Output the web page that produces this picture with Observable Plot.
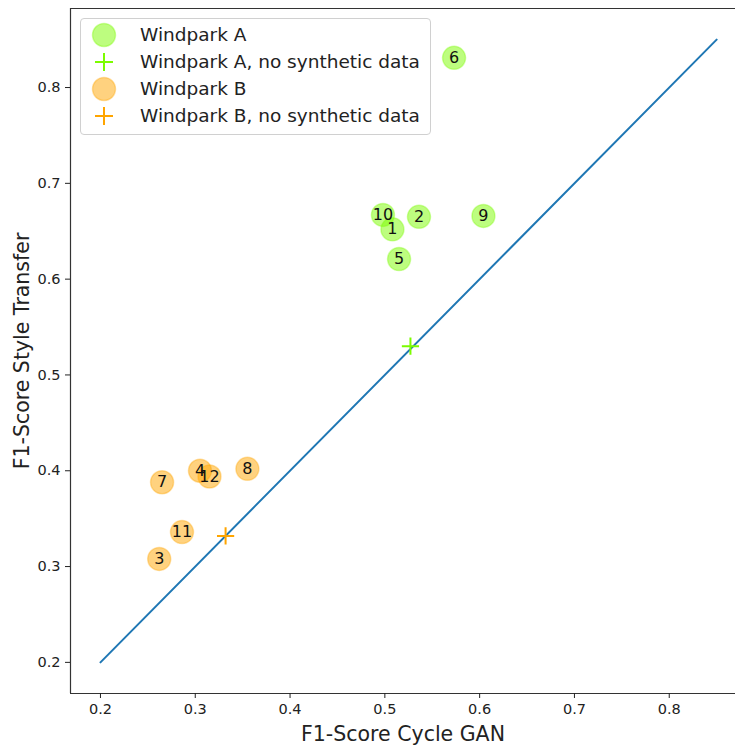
<!DOCTYPE html>
<html>
<head>
<meta charset="utf-8">
<script src="https://cdn.jsdelivr.net/npm/d3@7"></script>
<script src="https://cdn.jsdelivr.net/npm/@observablehq/plot@0.6"></script>
<style>
  html, body { margin: 0; padding: 0; background: #fff; }
  #wrap { position: relative; width: 735px; height: 745px; overflow: hidden; font-family: "DejaVu Sans", sans-serif; }
  #legend { position: absolute; left: 80px; top: 18px; width: 351px; height: 117px; border: 1px solid #d0d0d0; border-radius: 4px; background: rgba(255,255,255,0.85); box-sizing: border-box; }
  .row { position: absolute; left: 0; height: 26px; width: 100%; }
  .row svg { position: absolute; left: 10px; top: 0; }
  .row span { position: absolute; left: 59px; top: 1px; font-size: 18.5px; color: #222; line-height: 24px; white-space: nowrap; }
</style>
</head>
<body>
<div id="wrap"></div>
<script>
// Windpark A (with synthetic data)
const idsA = ["6", "10", "2", "1", "5", "9"];
const cycleA = [0.573, 0.498, 0.536, 0.508, 0.515, 0.604];
const styleA = [0.831, 0.667, 0.665, 0.652, 0.621, 0.666];
// Windpark A, no synthetic data
const baseCycleA = [0.527];
const baseStyleA = [0.530];
// Windpark B (with synthetic data)
const idsB = ["4", "12", "8", "7", "11", "3"];
const cycleB = [0.305, 0.315, 0.355, 0.265, 0.286, 0.262];
const styleB = [0.400, 0.394, 0.402, 0.388, 0.336, 0.308];
// Windpark B, no synthetic data
const baseCycleB = [0.332];
const baseStyleB = [0.332];
// Diagonal reference line
const diagX = [0.2, 0.85];
const diagY = [0.2, 0.85];
// Ticks
const xTicks = [0.2, 0.3, 0.4, 0.5, 0.6, 0.7, 0.8];
const yTicks = [0.2, 0.3, 0.4, 0.5, 0.6, 0.7, 0.8];

const greenFill = "#7CFC00";
const orangeFill = "#FFA500";

const A = idsA.map((id, i) => ({id, x: cycleA[i], y: styleA[i]}));
const B = idsB.map((id, i) => ({id, x: cycleB[i], y: styleB[i]}));
const A0 = baseCycleA.map((x, i) => ({x, y: baseStyleA[i]}));
const B0 = baseCycleB.map((x, i) => ({x, y: baseStyleB[i]}));
const diag = diagX.map((x, i) => ({x, y: diagY[i]}));

const xMin = 0.1684, xMax = 0.8699, yMin = 0.1675, yMax = 0.8825;

const plot = Plot.plot({
  width: 735,
  height: 745,
  marginLeft: 70,
  marginRight: 0,
  marginTop: 8,
  marginBottom: 52,
  style: {fontFamily: "DejaVu Sans, sans-serif", background: "white", overflow: "hidden"},
  x: {domain: [xMin, xMax]},
  y: {domain: [yMin, yMax]},
  marks: [
    Plot.line(diag, {x: "x", y: "y", stroke: "#1f77b4", strokeWidth: 2}),
    Plot.dot(A, {x: "x", y: "y", r: 11.5, fill: greenFill, fillOpacity: 0.5, stroke: greenFill, strokeOpacity: 0.35, strokeWidth: 1.5}),
    Plot.dot(A0, {x: "x", y: "y", symbol: "plus", r: 5.6, stroke: greenFill, strokeWidth: 2}),
    Plot.dot(B, {x: "x", y: "y", r: 11.5, fill: orangeFill, fillOpacity: 0.5, stroke: orangeFill, strokeOpacity: 0.35, strokeWidth: 1.5}),
    Plot.dot(B0, {x: "x", y: "y", symbol: "plus", r: 5.6, stroke: orangeFill, strokeWidth: 2}),
    Plot.text(A, {x: "x", y: "y", text: "id", fontSize: 16, fill: "#111"}),
    Plot.text(B, {x: "x", y: "y", text: "id", fontSize: 16, fill: "#111"}),
    Plot.ruleX([xMin], {stroke: "#333", strokeWidth: 1.2}),
    Plot.ruleY([yMin, yMax], {stroke: "#333", strokeWidth: 1.2}),
    Plot.axisX(xTicks, {ticks: xTicks, tickSize: 5, tickPadding: 5, fontSize: 14.5, tickFormat: d3.format(".1f"),
      label: "F1-Score Cycle GAN", labelAnchor: "center", labelArrow: false, labelOffset: 47, color: "#222"}),
    Plot.axisY(yTicks, {ticks: yTicks, tickSize: 5, tickPadding: 5, fontSize: 14.5, tickFormat: d3.format(".1f"),
      label: "F1-Score Style Transfer", labelAnchor: "center", labelArrow: false, labelOffset: 56, color: "#222"})
  ]
});
plot.querySelectorAll("[aria-label='x-axis label'], [aria-label='y-axis label']").forEach(g => g.setAttribute("font-size", "20.5"));

const wrap = document.getElementById("wrap");
wrap.appendChild(plot);

const legendItems = [
  {label: "Windpark A", color: greenFill, kind: "dot"},
  {label: "Windpark A, no synthetic data", color: greenFill, kind: "plus"},
  {label: "Windpark B", color: orangeFill, kind: "dot"},
  {label: "Windpark B, no synthetic data", color: orangeFill, kind: "plus"}
];
const legend = document.createElement("div");
legend.id = "legend";
const rowTops = [3, 30, 57, 84];
legendItems.forEach((it, i) => {
  const row = document.createElement("div");
  row.className = "row";
  row.style.top = rowTops[i] + "px";
  const marker = it.kind === "dot"
    ? `<circle cx="13" cy="13" r="11.5" fill="${it.color}" fill-opacity="0.5" stroke="${it.color}" stroke-opacity="0.35" stroke-width="1.5"/>`
    : `<path d="M13,4V22M4,13H22" stroke="${it.color}" stroke-width="2" fill="none"/>`;
  row.innerHTML = `<svg width="26" height="26">${marker}</svg><span>${it.label}</span>`;
  legend.appendChild(row);
});
wrap.appendChild(legend);
</script>
</body>
</html>
